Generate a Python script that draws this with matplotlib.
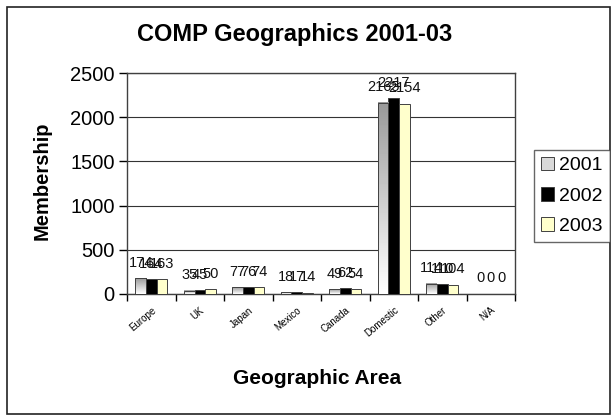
import numpy as np
import matplotlib.pyplot as plt
from matplotlib.patches import Rectangle

plt.rcParams['font.family'] = ['Liberation Sans', 'DejaVu Sans']

areas = ["Europe", "UK", "Japan", "Mexico", "Canada", "Domestic", "Other", "N/A"]
years = ["2001", "2002", "2003"]
y2001 = [174, 35, 77, 18, 49, 2165, 114, 0]
y2002 = [164, 45, 76, 17, 62, 2217, 110, 0]
y2003 = [163, 50, 74, 14, 54, 2154, 104, 0]
colors = ["#d9d9d9", "#000000", "#ffffcc"]


def main():
    fig = plt.figure(figsize=(6.11, 4.15), dpi=100)
    ax = fig.add_axes([0.208, 0.292, 0.635, 0.532])

    x = np.arange(len(areas))
    w = 0.22
    series = [y2001, y2002, y2003]
    grad = np.linspace(0.6, 1.0, 64).reshape(-1, 1)
    handles = []
    for i, (vals, c) in enumerate(zip(series, colors)):
        pos = x + (i - 1) * w
        b = ax.bar(pos, vals, w, color=c, edgecolor="#404040", linewidth=0.7,
                   zorder=3, label=years[i])
        handles.append(b)
        if i == 0:
            # grey at top fading to white at bottom, like the 2001 bars
            for rect in b:
                x0 = rect.get_x()
                h = rect.get_height()
                if h > 0:
                    ax.imshow(grad, extent=[x0, x0 + w, 0, h], cmap="gray",
                              vmin=0, vmax=1, aspect="auto", zorder=3.5,
                              interpolation="bilinear")
                    ax.add_patch(Rectangle((x0, 0), w, h, fill=False,
                                           edgecolor="#404040", linewidth=0.7,
                                           zorder=3.6))
        for p, v in zip(pos, vals):
            ax.annotate(str(v), (p, v), xytext=(0, 6), textcoords="offset points",
                        ha="center", va="bottom", fontsize=10.5, color="#111111",
                        zorder=4)

    ax.set_xlim(-0.5, len(areas) - 0.5)
    ax.set_ylim(0, 2500)
    ax.set_yticks(np.arange(0, 2501, 500))
    ax.yaxis.grid(True, color="#333333", linewidth=0.8, zorder=0)
    ax.tick_params(axis="y", labelsize=14.5, length=6, width=1, direction="out",
                   pad=3)

    ax.set_xticks(x)
    ax.set_xticklabels(areas, rotation=40, ha="right", fontsize=7,
                       rotation_mode="anchor")
    ax.tick_params(axis="x", length=0, pad=8)
    ax.set_xticks(np.arange(-0.5, len(areas)), minor=True)
    ax.tick_params(axis="x", which="minor", length=5, width=1, direction="out")

    for s in ax.spines.values():
        s.set_color("#404040")
        s.set_linewidth(1.0)

    ax.set_ylabel("Membership", fontsize=14.5, fontweight="bold")
    ax.yaxis.set_label_coords(-0.195, 0.51)
    ax.set_xlabel("Geographic Area", fontsize=15, fontweight="bold")
    ax.xaxis.set_label_coords(0.49, -0.34)
    fig.text(0.483, 0.916, "COMP Geographics 2001-03", ha="center", va="center",
             fontsize=17, fontweight="bold")

    leg = fig.legend(handles=handles, labels=years, loc="center left",
                     bbox_to_anchor=(0.874, 0.528), fontsize=14, frameon=True,
                     fancybox=False, edgecolor="#404040", handlelength=0.7,
                     handleheight=0.7, handletextpad=0.25, labelspacing=0.65,
                     borderpad=0.35, borderaxespad=0)
    leg.get_frame().set_linewidth(1.0)

    fig.patches.append(Rectangle((7 / 611, 1 / 415), 603 / 611, 407 / 415,
                                 transform=fig.transFigure, fill=False,
                                 edgecolor="#222222", linewidth=1.2))

    fig.savefig("out.png", dpi=100)


if __name__ == "__main__":
    main()
